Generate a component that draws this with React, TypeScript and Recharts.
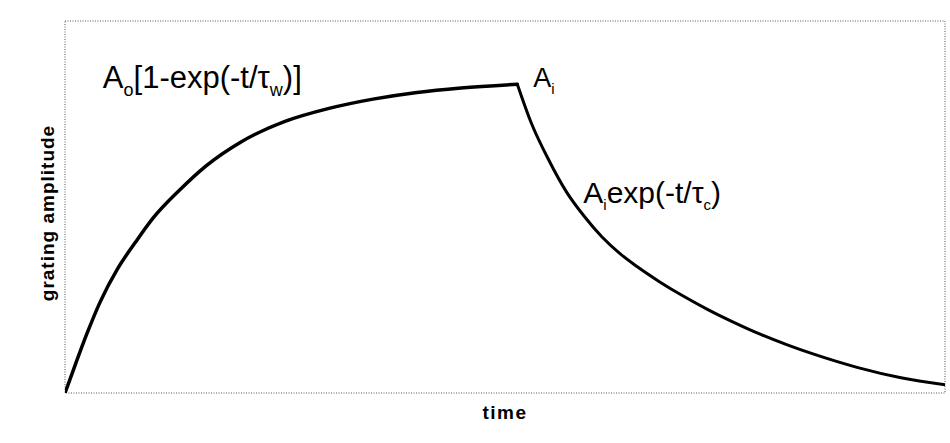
import React from 'react';
import {
  ComposedChart,
  Line,
  XAxis,
  YAxis,
  ReferenceArea,
  ReferenceDot,
} from 'recharts';

// rise of the grating while writing, then decay once writing stops
const riseTime = [0, 1, 2.5, 4, 6, 8, 10, 13, 16, 20, 25, 30, 35, 40, 45, 51.4];
const riseAmp = [0, 6.5, 16, 24.5, 33.5, 40.5, 47, 54.5, 61, 67.5, 73, 76.5, 79, 80.8, 82, 83];

const decayTime = [51.4, 53, 55, 57, 59, 61, 63, 65, 67.5, 70, 73, 76, 79, 82, 85, 90, 95, 100];
const decayAmp = [83, 72.5, 62.5, 54, 47.5, 42, 37.6, 34, 30, 26.4, 22.5, 19, 15.8, 13, 10.5, 6.9, 4.1, 2.2];

const riseData = riseTime.map((t, i) => ({ t, amp: riseAmp[i] }));
const decayData = decayTime.map((t, i) => ({ t, amp: decayAmp[i] }));

const FONT = '"Liberation Sans", Arial, Helvetica, sans-serif';

// formula annotations: [time, amplitude] where the text starts
const writeLabelAt = [4.3, 82];
const peakLabelAt = [53.2, 82.3];
const decayLabelAt = [58.9, 51.1];

const Sub = ({ children, size }: { children: React.ReactNode; size: number }) => (
  <tspan fontSize={size} dy={size * 0.45}>{children}</tspan>
);

const AxisTitleY = (props: any) => {
  const { viewBox } = props;
  const cx = viewBox.x + 47;
  const cy = viewBox.y + viewBox.height / 2 + 6;
  return (
    <text
      x={cx}
      y={cy}
      transform={`rotate(-90, ${cx}, ${cy})`}
      textAnchor="middle"
      dominantBaseline="central"
      fontFamily={FONT}
      fontWeight="bold"
      fontSize={19}
      letterSpacing={1}
      fill="#000"
    >
      grating amplitude
    </text>
  );
};

const AxisTitleX = (props: any) => {
  const { viewBox } = props;
  return (
    <text
      x={viewBox.x + viewBox.width / 2}
      y={viewBox.y + 26}
      textAnchor="middle"
      fontFamily={FONT}
      fontWeight="bold"
      fontSize={19}
      letterSpacing={1.5}
      fill="#000"
    >
      time
    </text>
  );
};

export default function App() {
  return (
    <div style={{ position: 'absolute', left: 0, top: 0, background: '#fff' }}>
      <ComposedChart
        width={950}
        height={443}
        margin={{ top: 21, right: 5, bottom: 0, left: 0 }}
      >
        <XAxis
          type="number"
          dataKey="t"
          domain={[0, 100]}
          allowDataOverflow
          height={50}
          tick={false}
          tickLine={false}
          axisLine={false}
          label={{ content: AxisTitleX }}
        />
        <YAxis
          type="number"
          domain={[0, 100]}
          allowDataOverflow
          width={65}
          tick={false}
          tickLine={false}
          axisLine={false}
          label={{ content: AxisTitleY }}
        />
        <ReferenceArea
          x1={0}
          x2={100}
          y1={0}
          y2={100}
          fill="none"
          stroke="#555"
          strokeDasharray="1 1.5"
          strokeWidth={1}
        />
        <Line
          data={riseData}
          dataKey="amp"
          type="monotone"
          stroke="#000"
          strokeWidth={3.5}
          strokeLinecap="round"
          dot={false}
          isAnimationActive={false}
        />
        <Line
          data={decayData}
          dataKey="amp"
          type="monotone"
          stroke="#000"
          strokeWidth={3}
          strokeLinecap="round"
          dot={false}
          isAnimationActive={false}
        />
        <ReferenceDot
          x={writeLabelAt[0]}
          y={writeLabelAt[1]}
          r={0}
          shape={(p: any) => (
            <text x={p.cx} y={p.cy} fontFamily={FONT} fontSize={31} fill="#000">
              A<Sub size={18}>o</Sub>
              <tspan dy={-18 * 0.45}>[1-exp(-t/τ</tspan>
              <Sub size={18}>w</Sub>
              <tspan dy={-18 * 0.45}>)]</tspan>
            </text>
          )}
        />
        <ReferenceDot
          x={peakLabelAt[0]}
          y={peakLabelAt[1]}
          r={0}
          shape={(p: any) => (
            <text x={p.cx} y={p.cy} fontFamily={FONT} fontSize={27} fill="#000">
              A<Sub size={15}>i</Sub>
            </text>
          )}
        />
        <ReferenceDot
          x={decayLabelAt[0]}
          y={decayLabelAt[1]}
          r={0}
          shape={(p: any) => (
            <text x={p.cx} y={p.cy} fontFamily={FONT} fontSize={30} fill="#000">
              A<Sub size={15}>i</Sub>
              <tspan dy={-15 * 0.45}>exp(-t/τ</tspan>
              <Sub size={15}>c</Sub>
              <tspan dy={-15 * 0.45}>)</tspan>
            </text>
          )}
        />
      </ComposedChart>
    </div>
  );
}
